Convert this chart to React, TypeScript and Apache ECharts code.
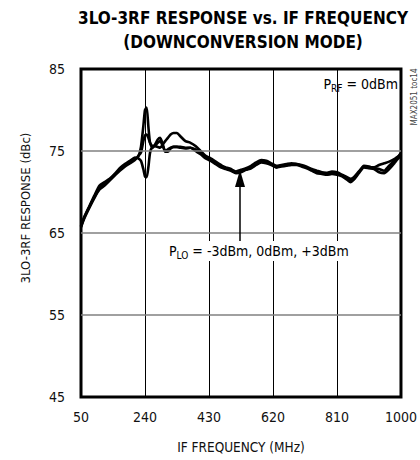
import React, { useEffect, useRef } from "react";
import * as echarts from "echarts";

const FREQ = [50, 60, 75, 90, 105, 120, 135, 150, 165, 180, 195, 210, 220, 228, 235, 240, 245, 250, 255, 262, 270, 278, 285, 293, 300, 308, 316, 325, 335, 345, 360, 375, 390, 405, 420, 435, 450, 465, 480, 495, 510, 525, 540, 555, 570, 585, 600, 615, 630, 645, 660, 675, 690, 705, 720, 735, 750, 765, 780, 795, 810, 825, 840, 850, 860, 875, 890, 905, 920, 935, 950, 965, 980, 990, 1000];

const LO_M3 = [65.8, 66.9, 68.2, 69.4, 70.5, 71.0, 71.5, 72.1, 72.7, 73.2, 73.6, 74.0, 74.3, 75.5, 78.0, 80.0, 80.3, 78.0, 76.0, 75.4, 75.8, 76.4, 76.6, 75.8, 74.9, 74.9, 75.3, 75.5, 75.5, 75.5, 75.4, 75.4, 75.2, 74.8, 74.3, 73.9, 73.5, 73.2, 73.0, 72.8, 72.4, 72.5, 72.8, 73.0, 73.4, 73.8, 73.7, 73.4, 73.0, 73.2, 73.3, 73.4, 73.4, 73.2, 73.0, 72.7, 72.4, 72.3, 72.3, 72.4, 72.3, 72.0, 71.7, 71.3, 71.6, 72.4, 73.2, 73.1, 72.9, 72.8, 72.6, 73.2, 73.8, 74.2, 74.8];

const LO_0 = [65.9, 67.0, 68.3, 69.6, 70.8, 71.2, 71.6, 72.2, 72.9, 73.4, 73.8, 74.2, 74.1, 73.8, 72.8, 71.9, 71.8, 73.0, 74.8, 75.5, 75.6, 75.5, 75.4, 75.8, 76.2, 76.6, 77.0, 77.2, 77.2, 76.8, 76.2, 76.0, 75.6, 75.0, 74.4, 74.1, 73.7, 73.3, 72.9, 72.7, 72.5, 72.7, 72.9, 73.2, 73.6, 73.9, 73.8, 73.5, 73.2, 73.3, 73.4, 73.5, 73.4, 73.3, 73.1, 72.8, 72.6, 72.4, 72.3, 72.5, 72.4, 72.1, 71.8, 71.6, 71.8, 72.5, 73.1, 73.0, 73.0, 73.3, 73.5, 73.7, 74.0, 74.3, 74.6];

const LO_P3 = [65.7, 66.8, 68.1, 69.3, 70.3, 70.8, 71.4, 72.0, 72.6, 73.1, 73.5, 73.9, 74.4, 74.8, 76.2, 76.9, 77.0, 76.6, 76.0, 75.6, 75.7, 76.0, 76.2, 75.6, 75.0, 75.2, 75.4, 75.5, 75.5, 75.4, 75.3, 75.4, 75.0, 74.6, 74.1, 73.8, 73.4, 73.0, 72.8, 72.6, 72.3, 72.4, 72.7, 72.9, 73.3, 73.6, 73.5, 73.3, 73.0, 73.1, 73.2, 73.3, 73.3, 73.1, 72.9, 72.6, 72.3, 72.2, 72.1, 72.2, 72.1, 71.9, 71.5, 71.2, 71.5, 72.3, 73.0, 72.9, 72.8, 72.4, 72.3, 72.8, 73.5, 74.0, 74.4];

const X_TICKS = [50, 240, 430, 620, 810, 1000];
const Y_TICKS = [45, 55, 65, 75, 85];
const X_GRID = [240, 430, 620, 810];
const Y_GRID = [55, 65, 75];

const FONT = "'Liberation Sans Narrow', 'DejaVu Sans Condensed', 'Roboto Condensed', 'Arial Narrow', sans-serif";

export default function App() {
  const ref = useRef<HTMLDivElement>(null);
  useEffect(() => {
    document.body.style.margin = "0";
    const chart = echarts.init(ref.current!, null, { renderer: "svg" });
    const mk = (vals: number[]) => FREQ.map((f, i) => [f, vals[i]]);
    const curve = (name: string, vals: number[]) => ({
      name,
      type: "line",
      data: mk(vals),
      showSymbol: false,
      smooth: 0.2,
      z: 3,
      lineStyle: { color: "#000", width: 2.6 },
    });
    chart.setOption({
      animation: false,
      textStyle: { fontFamily: FONT },
      grid: {
        left: 81,
        top: 69,
        width: 330,
        height: 328,
        show: true,
        borderColor: "#000",
        borderWidth: 3,
        backgroundColor: "transparent",
      },
      xAxis: {
        type: "value",
        min: 50,
        max: 1000,
        axisLine: { show: false },
        axisTick: { show: false },
        splitLine: { show: false },
        axisLabel: {
          customValues: X_TICKS,
          formatter: (v: number) => String(v),
          fontSize: 14,
          color: "#111",
          margin: 13,
          fontFamily: FONT,
        },
        name: "IF FREQUENCY (MHz)",
        nameLocation: "middle",
        nameGap: 43,
        nameTextStyle: { fontSize: 13.5, color: "#111", fontFamily: FONT },
      },
      yAxis: {
        type: "value",
        min: 45,
        max: 85,
        axisLine: { show: false },
        axisTick: { show: false },
        splitLine: { show: false },
        axisLabel: {
          customValues: Y_TICKS,
          formatter: (v: number) => String(v),
          fontSize: 14,
          color: "#111",
          margin: 16,
          fontFamily: FONT,
        },
      },
      series: [
        {
          type: "line",
          data: [],
          z: 1,
          markLine: {
            silent: true,
            symbol: ["none", "none"],
            label: { show: false },
            animation: false,
            data: [
              ...X_GRID.map((v) => ({ xAxis: v, lineStyle: { color: "#000", width: 1, type: "solid" } })),
              ...Y_GRID.map((v) => ({ yAxis: v, lineStyle: { color: "#808080", width: 1.5, type: "solid" } })),
            ],
          },
        },
        curve("PLO = -3dBm", LO_M3),
        curve("PLO = 0dBm", LO_0),
        curve("PLO = +3dBm", LO_P3),
      ],
      graphic: [
        {
          type: "text",
          x: 243,
          y: 6,
          style: {
            text: "3LO-3RF RESPONSE vs. IF FREQUENCY\n(DOWNCONVERSION MODE)",
            align: "center",
            fontSize: 17,
            fontWeight: "bold",
            lineHeight: 24,
            fontFamily: FONT,
            fill: "#000",
          },
        },
        {
          type: "text",
          x: 25,
          y: 208,
          rotation: Math.PI / 2,
          style: {
            text: "3LO-3RF RESPONSE (dBc)",
            align: "center",
            verticalAlign: "middle",
            fontSize: 13,
            fontFamily: FONT,
            fill: "#111",
          },
        },
        {
          type: "text",
          x: 414,
          y: 97,
          rotation: Math.PI / 2,
          style: {
            text: "MAX2051 toc14",
            align: "center",
            verticalAlign: "middle",
            fontSize: 8,
            fontFamily: FONT,
            fill: "#444",
          },
        },
        {
          type: "text",
          x: 398,
          y: 84,
          z: 10,
          style: {
            text: "{p|P}{s|RF}{p| = 0dBm}",
            align: "right",
            verticalAlign: "middle",
            fontFamily: FONT,
            fill: "#000",
            rich: {
              p: { fontSize: 14, lineHeight: 18, verticalAlign: "middle", fontFamily: FONT, fill: "#000" },
              s: { fontSize: 10, lineHeight: 10, verticalAlign: "bottom", fontFamily: FONT, fill: "#000" },
            },
          },
        },
        {
          type: "line",
          z: 10,
          shape: { x1: 240, y1: 241, x2: 240, y2: 184 },
          style: { stroke: "#000", lineWidth: 1.5 },
        },
        {
          type: "polygon",
          z: 10,
          shape: { points: [[235, 187], [245, 187], [240, 170]] },
          style: { fill: "#000" },
        },
        {
          type: "text",
          x: 168,
          y: 251,
          z: 10,
          style: {
            text: "{p|P}{s|LO}{p| = -3dBm, 0dBm, +3dBm}",
            align: "left",
            verticalAlign: "middle",
            fontFamily: FONT,
            fill: "#000",
            backgroundColor: "#fff",
            padding: [1, 2, 1, 1],
            rich: {
              p: { fontSize: 14, lineHeight: 18, verticalAlign: "middle", fontFamily: FONT, fill: "#000" },
              s: { fontSize: 10, lineHeight: 10, verticalAlign: "bottom", fontFamily: FONT, fill: "#000" },
            },
          },
        },
      ],
    });
    return () => chart.dispose();
  }, []);
  return <div ref={ref} style={{ width: 420, height: 460 }} />;
}
